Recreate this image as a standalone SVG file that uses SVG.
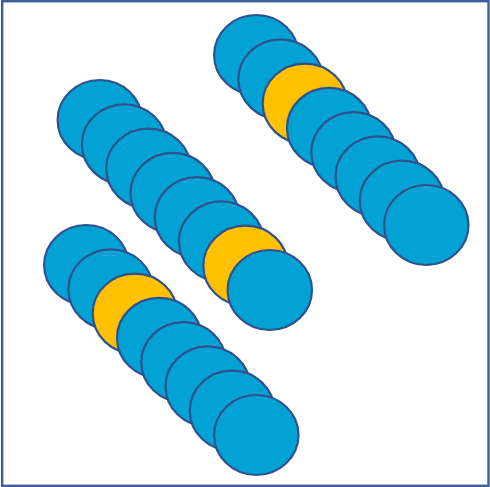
<svg xmlns="http://www.w3.org/2000/svg" width="490" height="487" viewBox="0 0 490 487">
<style>
.b{fill:#02A3D4;stroke:#2F528F;stroke-width:2.2}
.y{fill:#FFC000;stroke:#2F528F;stroke-width:2.2}
</style>
<rect x="0" y="0" width="490" height="487" fill="#fff"/>
<rect x="2.2" y="1.2" width="486.3" height="484.6" fill="none" stroke="#3F5F9B" stroke-width="2.4"/>
<g id="chain1">
<ellipse id="c1-1" class="b" cx="256.3" cy="55" rx="42.2" ry="40"/>
<ellipse id="c1-2" class="b" cx="280.6" cy="79.3" rx="42.2" ry="40"/>
<ellipse id="c1-3" class="y" cx="304.9" cy="103.6" rx="42.2" ry="40"/>
<ellipse id="c1-4" class="b" cx="329.2" cy="127.9" rx="42.2" ry="40"/>
<ellipse id="c1-5" class="b" cx="353.5" cy="152.2" rx="42.2" ry="40"/>
<ellipse id="c1-6" class="b" cx="377.7" cy="176.4" rx="42.2" ry="40"/>
<ellipse id="c1-7" class="b" cx="402" cy="200.7" rx="42.2" ry="40"/>
<ellipse id="c1-8" class="b" cx="426.3" cy="225" rx="42.2" ry="40"/>
</g>
<g id="chain2">
<ellipse id="c2-1" class="b" cx="99.8" cy="120" rx="42.2" ry="40"/>
<ellipse id="c2-2" class="b" cx="124.1" cy="144.3" rx="42.2" ry="40"/>
<ellipse id="c2-3" class="b" cx="148.4" cy="168.6" rx="42.2" ry="40"/>
<ellipse id="c2-4" class="b" cx="172.7" cy="192.9" rx="42.2" ry="40"/>
<ellipse id="c2-5" class="b" cx="197" cy="217.2" rx="42.2" ry="40"/>
<ellipse id="c2-6" class="b" cx="221.2" cy="241.4" rx="42.2" ry="40"/>
<ellipse id="c2-7" class="y" cx="245.5" cy="265.7" rx="42.2" ry="40"/>
<ellipse id="c2-8" class="b" cx="269.8" cy="290" rx="42.2" ry="40"/>
</g>
<g id="chain3">
<ellipse id="c3-1" class="b" cx="86.3" cy="265" rx="42.2" ry="40"/>
<ellipse id="c3-2" class="b" cx="110.6" cy="289.3" rx="42.2" ry="40"/>
<ellipse id="c3-3" class="y" cx="134.9" cy="313.6" rx="42.2" ry="40"/>
<ellipse id="c3-4" class="b" cx="159.2" cy="337.9" rx="42.2" ry="40"/>
<ellipse id="c3-5" class="b" cx="183.5" cy="362.2" rx="42.2" ry="40"/>
<ellipse id="c3-6" class="b" cx="207.7" cy="386.4" rx="42.2" ry="40"/>
<ellipse id="c3-7" class="b" cx="232" cy="410.7" rx="42.2" ry="40"/>
<ellipse id="c3-8" class="b" cx="256.3" cy="435" rx="42.2" ry="40"/>
</g>
<g id="connectors"/>
</svg>
